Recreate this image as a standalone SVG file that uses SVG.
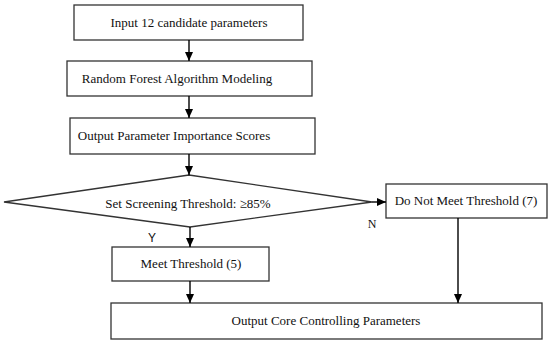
<svg xmlns="http://www.w3.org/2000/svg" width="550" height="344" viewBox="0 0 550 344">
<defs>
<marker id="ah" markerWidth="10" markerHeight="10" refX="9" refY="5" orient="auto" markerUnits="userSpaceOnUse">
<path d="M0,1 L9,5 L0,9 Z" fill="#000"/>
</marker>
<style>
.box{fill:#fff;stroke:#333;stroke-width:1.3}
.t{font-family:"Liberation Serif","Times New Roman",serif;font-size:13px;fill:#111}
.c{stroke:#000;stroke-width:1.4;fill:none}
</style>
</defs>
<rect width="550" height="344" fill="#fff"/>
<g id="n1"><rect class="box" x="74" y="5" width="229" height="35"/><text class="t" x="189" y="27" text-anchor="middle">Input 12 candidate parameters</text></g>
<g id="n2"><rect class="box" x="67" y="61" width="245" height="35"/><text class="t" x="177" y="83" text-anchor="middle">Random Forest Algorithm Modeling</text></g>
<g id="n3"><rect class="box" x="70" y="118" width="245" height="36"/><text class="t" x="174" y="140" text-anchor="middle">Output Parameter Importance Scores</text></g>
<g id="n4"><polygon class="box" points="4,202 189,175 372,202 190,227"/><text class="t" x="188" y="208" text-anchor="middle">Set Screening Threshold: ≥85%</text></g>
<g id="n5"><rect class="box" x="386" y="184" width="161" height="34"/><text class="t" x="466" y="205" text-anchor="middle">Do Not Meet Threshold (7)</text></g>
<g id="n6"><rect class="box" x="112" y="247" width="157" height="34"/><text class="t" x="191" y="268" text-anchor="middle">Meet Threshold (5)</text></g>
<g id="n7"><rect class="box" x="111" y="303" width="431" height="36"/><text class="t" x="326" y="325" text-anchor="middle">Output Core Controlling Parameters</text></g>
<g id="connectors">
<line class="c" x1="189" y1="40" x2="189" y2="61" marker-end="url(#ah)"/>
<line class="c" x1="189" y1="96" x2="189" y2="118" marker-end="url(#ah)"/>
<line class="c" x1="189" y1="154" x2="189" y2="175" marker-end="url(#ah)"/>
<line class="c" x1="372" y1="202" x2="386" y2="202" marker-end="url(#ah)"/>
<line class="c" x1="190" y1="227" x2="190" y2="247" marker-end="url(#ah)"/>
<line class="c" x1="190" y1="281" x2="190" y2="303" marker-end="url(#ah)"/>
<line class="c" x1="458" y1="218" x2="458" y2="303" marker-end="url(#ah)"/>
<text x="372" y="228" text-anchor="middle" style="font-family:'Liberation Serif',serif;font-size:12px;fill:#111">N</text>
<text x="152" y="242" text-anchor="middle" style="font-family:'Liberation Sans',sans-serif;font-size:12px;fill:#111">Y</text>
</g>
</svg>
